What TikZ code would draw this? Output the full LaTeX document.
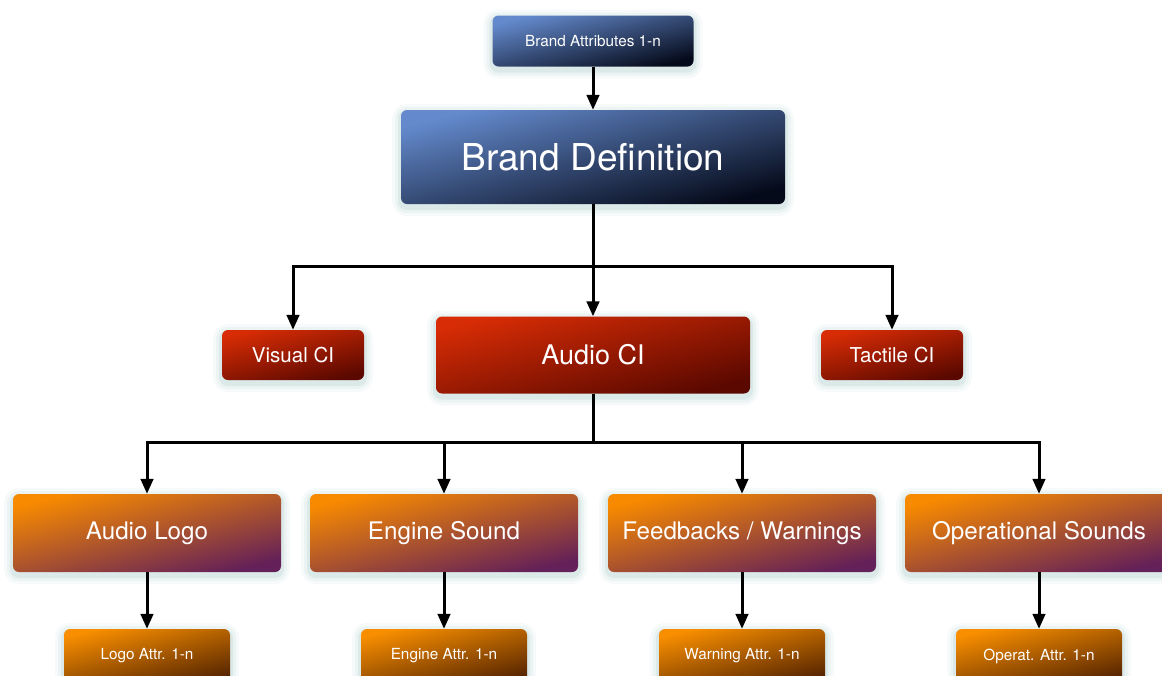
\documentclass[tikz,border=0pt]{standalone}
\usepackage{fontspec}
\setmainfont{TeX Gyre Heros}
\usetikzlibrary{arrows.meta}
\definecolor{glow}{RGB}{110,165,165}
\definecolor{blueA}{RGB}{100,138,205}
\definecolor{blueM}{RGB}{56,82,138}
\definecolor{blueB}{RGB}{5,10,26}
\definecolor{redA}{RGB}{215,44,5}
\definecolor{redM}{RGB}{165,28,4}
\definecolor{redB}{RGB}{90,8,0}
\definecolor{orA}{RGB}{248,138,0}
\definecolor{orM}{RGB}{200,96,42}
\definecolor{orB}{RGB}{100,32,88}
\definecolor{brA}{RGB}{248,142,0}
\definecolor{brM}{RGB}{190,96,6}
\definecolor{brB}{RGB}{88,38,0}
\tikzset{
  glowing/.style={
    preaction={draw=glow, line width=18pt, opacity=0.05, transform canvas={yshift=-3pt}},
    preaction={draw=glow, line width=12pt, opacity=0.08, transform canvas={yshift=-3pt}},
    preaction={draw=glow, line width=6pt, opacity=0.12, transform canvas={yshift=-3pt}}
  },
  box/.style={glowing, rounded corners=6pt, text=white, inner sep=0pt, align=center},
  bluebox/.style={box, top color=blueA, middle color=blueM, bottom color=blueB, shading angle=14},
  redbox/.style={box, top color=redA, middle color=redM, bottom color=redB, shading angle=14},
  orbox/.style={box, top color=orA, middle color=orM, bottom color=orB, shading angle=14,
    minimum width=268pt, minimum height=78pt, font=\fontsize{24.2pt}{28pt}\selectfont},
  brbox/.style={box, top color=brA, middle color=brM, bottom color=brB, shading angle=14,
    minimum width=166pt, minimum height=54pt, font=\fontsize{15.3pt}{18pt}\selectfont},
  ln/.style={line width=3pt, black},
  arr/.style={ln, -{Triangle[width=12.5pt,length=15pt]}}
}
\begin{document}
\begin{tikzpicture}[x=1pt, y=-1pt]
\clip (0,0) rectangle (1162,675);
\fill[white] (0,0) rectangle (1162,675);
% level 0/1
\node[bluebox, minimum width=201pt, minimum height=51pt, font=\fontsize{15.3pt}{18pt}\selectfont] (ba) at (593,41) {Brand Attributes 1-n};
\node[bluebox, minimum width=384pt, minimum height=94pt, font=\fontsize{37pt}{42pt}\selectfont] (bd) at (593,157) {Brand Definition};
% level 2
\node[redbox, minimum width=142pt, minimum height=50pt, font=\fontsize{20.5pt}{24pt}\selectfont] (vci) at (293,355) {Visual CI};
\node[redbox, minimum width=314pt, minimum height=77pt, font=\fontsize{27pt}{32pt}\selectfont] (aci) at (593,355) {Audio CI};
\node[redbox, minimum width=142pt, minimum height=50pt, font=\fontsize{20.5pt}{24pt}\selectfont] (tci) at (892,355) {Tactile CI};
% level 3
\node[orbox] (al) at (147,533) {Audio Logo};
\node[orbox] (es) at (444,533) {Engine Sound};
\node[orbox] (fw) at (742,533) {Feedbacks / Warnings};
\node[orbox] (os) at (1039,533) {Operational Sounds};
% level 4
\node[brbox] (la) at (147,656) {Logo Attr. 1-n};
\node[brbox] (ea) at (444,656) {Engine Attr. 1-n};
\node[brbox] (wa) at (742,656) {Warning Attr. 1-n};
\node[brbox] (oa) at (1039,656) {Operat. Attr. 1-n};
% connectors
\coordinate (j1) at (593,266);
\coordinate (j2) at (593,442);
\draw[arr] (ba) -- (bd);
\draw[arr] (bd) -- (aci);
\draw[arr] (j1) -| (vci.north);
\draw[arr] (j1) -| (tci.north);
\draw[ln] (aci) -- (j2);
\draw[arr] (j2) -| (al.north);
\draw[arr] (j2) -| (es.north);
\draw[arr] (j2) -| (fw.north);
\draw[arr] (j2) -| (os.north);
\draw[arr] (al) -- (la);
\draw[arr] (es) -- (ea);
\draw[arr] (fw) -- (wa);
\draw[arr] (os) -- (oa);
\end{tikzpicture}
\end{document}
